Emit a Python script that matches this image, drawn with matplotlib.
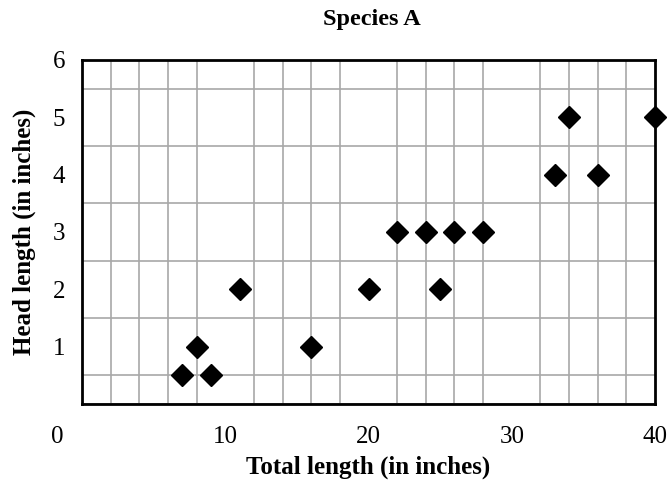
import matplotlib
matplotlib.use("Agg")
import matplotlib.pyplot as plt
import numpy as np

total_length = [7, 8, 9, 11, 16, 20, 22, 24, 25, 26, 28, 33, 34, 36, 40]
head_length = [0.5, 1, 0.5, 2, 1, 2, 3, 3, 2, 3, 3, 4, 5, 4, 5]
x_labels = [10, 20, 30, 40]
y_labels = [1, 2, 3, 4, 5, 6]

plt.rcParams['font.family'] = ['Liberation Serif', 'DejaVu Serif']

fs = 18
xpad = 16

fig = plt.figure(figsize=(6.68, 4.82), dpi=100)
ax = fig.add_axes([82 / 668, 1 - 404 / 482, (655 - 82) / 668, (404 - 60) / 482])

ax.set_xlim(0, 40)
ax.set_ylim(0, 6)
ax.set_xticks(np.arange(0, 41, 2), minor=True)
ax.set_yticks(np.arange(0, 6.01, 0.5), minor=True)
ax.grid(which='minor', color='#a8a8a8', linewidth=1.2)
ax.set_axisbelow(True)

ax.set_xticks(x_labels)
ax.set_xticklabels([str(v) for v in x_labels], fontsize=fs)
ax.set_yticks(y_labels)
ax.set_yticklabels([str(v) for v in y_labels], fontsize=fs)
ax.tick_params(which='both', length=0)
ax.tick_params(axis='x', pad=xpad)
ax.tick_params(axis='y', pad=12)

# corner "0" sits left of the axis, on the x tick label line
ax.annotate('0', xy=(-1.7, 0), xycoords=('data', 'axes fraction'),
            xytext=(0, -xpad), textcoords='offset points',
            ha='center', va='top', fontsize=fs, annotation_clip=False)

for s in ax.spines.values():
    s.set_linewidth(2)
    s.set_color('black')

ax.plot(total_length, head_length, linestyle='none', marker='D',
        markersize=11, color='black', clip_on=False, zorder=5)

ax.set_xlabel('Total length (in inches)', fontsize=fs, fontweight='bold', labelpad=5)
ax.set_ylabel('Head length (in inches)', fontsize=fs, fontweight='bold', labelpad=12)
fig.text(372 / 668, 1 - 20 / 482, 'Species A', fontsize=17.5, fontweight='bold',
         ha='center', va='center')

fig.savefig('out.png', dpi=100)
